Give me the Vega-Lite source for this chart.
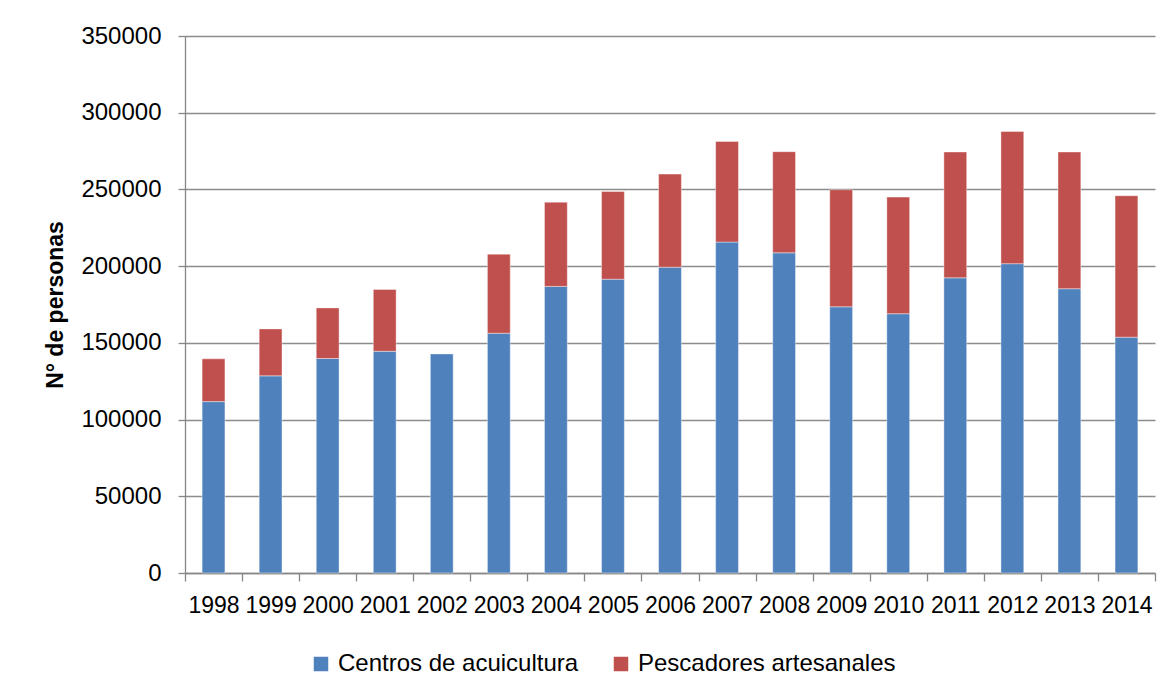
{
  "$schema": "https://vega.github.io/schema/vega-lite/v6.json",
  "width": 970,
  "height": 537,
  "autosize": {"type": "none"},
  "padding": {"left": 185, "top": 36, "right": 20, "bottom": 127},
  "background": "#ffffff",
  "data": {
    "values": [
      {"anio": "1998", "serie": "Centros de acuicultura", "orden": 0, "valor": 111700},
      {"anio": "1999", "serie": "Centros de acuicultura", "orden": 0, "valor": 128500},
      {"anio": "2000", "serie": "Centros de acuicultura", "orden": 0, "valor": 139800},
      {"anio": "2001", "serie": "Centros de acuicultura", "orden": 0, "valor": 144500},
      {"anio": "2002", "serie": "Centros de acuicultura", "orden": 0, "valor": 142800},
      {"anio": "2003", "serie": "Centros de acuicultura", "orden": 0, "valor": 156300},
      {"anio": "2004", "serie": "Centros de acuicultura", "orden": 0, "valor": 186800},
      {"anio": "2005", "serie": "Centros de acuicultura", "orden": 0, "valor": 191500},
      {"anio": "2006", "serie": "Centros de acuicultura", "orden": 0, "valor": 199300},
      {"anio": "2007", "serie": "Centros de acuicultura", "orden": 0, "valor": 215700},
      {"anio": "2008", "serie": "Centros de acuicultura", "orden": 0, "valor": 208700},
      {"anio": "2009", "serie": "Centros de acuicultura", "orden": 0, "valor": 173500},
      {"anio": "2010", "serie": "Centros de acuicultura", "orden": 0, "valor": 169000},
      {"anio": "2011", "serie": "Centros de acuicultura", "orden": 0, "valor": 192400},
      {"anio": "2012", "serie": "Centros de acuicultura", "orden": 0, "valor": 201600},
      {"anio": "2013", "serie": "Centros de acuicultura", "orden": 0, "valor": 185300},
      {"anio": "2014", "serie": "Centros de acuicultura", "orden": 0, "valor": 153700},
      {"anio": "1998", "serie": "Pescadores artesanales", "orden": 1, "valor": 27900},
      {"anio": "1999", "serie": "Pescadores artesanales", "orden": 1, "valor": 30600},
      {"anio": "2000", "serie": "Pescadores artesanales", "orden": 1, "valor": 33000},
      {"anio": "2001", "serie": "Pescadores artesanales", "orden": 1, "valor": 40300},
      {"anio": "2003", "serie": "Pescadores artesanales", "orden": 1, "valor": 51500},
      {"anio": "2004", "serie": "Pescadores artesanales", "orden": 1, "valor": 54900},
      {"anio": "2005", "serie": "Pescadores artesanales", "orden": 1, "valor": 57200},
      {"anio": "2006", "serie": "Pescadores artesanales", "orden": 1, "valor": 60700},
      {"anio": "2007", "serie": "Pescadores artesanales", "orden": 1, "valor": 65600},
      {"anio": "2008", "serie": "Pescadores artesanales", "orden": 1, "valor": 65900},
      {"anio": "2009", "serie": "Pescadores artesanales", "orden": 1, "valor": 76300},
      {"anio": "2010", "serie": "Pescadores artesanales", "orden": 1, "valor": 76000},
      {"anio": "2011", "serie": "Pescadores artesanales", "orden": 1, "valor": 82000},
      {"anio": "2012", "serie": "Pescadores artesanales", "orden": 1, "valor": 86200},
      {"anio": "2013", "serie": "Pescadores artesanales", "orden": 1, "valor": 89100},
      {"anio": "2014", "serie": "Pescadores artesanales", "orden": 1, "valor": 92200}
    ]
  },
  "mark": {"type": "bar", "width": {"band": 0.4}, "stroke": "#ffffff", "strokeWidth": 0.8, "strokeOpacity": 0.5},
  "encoding": {
    "x": {
      "field": "anio",
      "type": "ordinal",
      "scale": {"paddingInner": 0, "paddingOuter": 0},
      "axis": {
        "title": null,
        "labelAngle": 0,
        "labelFont": "Liberation Sans",
        "labelFontSize": 23,
        "labelColor": "#000000",
        "labelPadding": 13,
        "tickBand": "extent",
        "tickSize": 8,
        "tickColor": "#868686",
        "domainColor": "#868686",
        "domainWidth": 1.3,
        "tickWidth": 1.3,
        "grid": false
      }
    },
    "y": {
      "field": "valor",
      "type": "quantitative",
      "stack": "zero",
      "scale": {"domain": [0, 350000], "nice": false},
      "axis": {
        "title": "N° de personas",
        "titleFont": "Liberation Sans",
        "titleFontSize": 23,
        "titleFontWeight": "bold",
        "titleColor": "#000000",
        "titlePadding": 13,
        "values": [0, 50000, 100000, 150000, 200000, 250000, 300000, 350000],
        "format": "d",
        "labelFont": "Liberation Sans",
        "labelFontSize": 24,
        "labelColor": "#000000",
        "labelPadding": 17,
        "tickSize": 7,
        "tickColor": "#868686",
        "tickWidth": 1.3,
        "domainColor": "#868686",
        "domainWidth": 1.3,
        "grid": true,
        "gridColor": "#8c8c8c",
        "gridWidth": 1.4
      }
    },
    "color": {
      "field": "serie",
      "type": "nominal",
      "scale": {
        "domain": ["Centros de acuicultura", "Pescadores artesanales"],
        "range": ["#4F81BD", "#C0504D"]
      },
      "legend": {
        "title": null,
        "orient": "none",
        "legendX": 124,
        "legendY": 616,
        "direction": "horizontal",
        "columns": 2,
        "columnPadding": 30,
        "symbolType": "square",
        "symbolSize": 210,
        "symbolStrokeWidth": 0,
        "labelFont": "Liberation Sans",
        "labelFontSize": 24,
        "labelColor": "#000000",
        "labelOffset": 5,
        "labelLimit": 400
      }
    },
    "order": {"field": "orden", "type": "quantitative", "sort": "ascending"}
  },
  "config": {
    "view": {"stroke": null}
  }
}
